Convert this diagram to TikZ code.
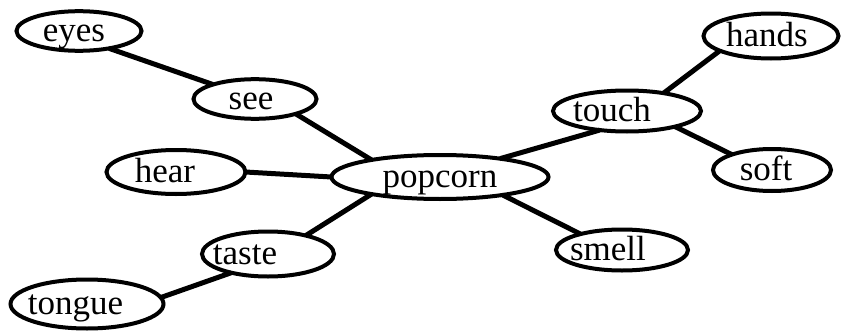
\documentclass[tikz,border=0pt]{standalone}
\usepackage{fontspec}
\setmainfont{Liberation Serif}
\usetikzlibrary{shapes.geometric}
\tikzset{
  oval/.style={ellipse, draw, line width=4pt, inner sep=0pt, outer sep=0pt,
    font=\fontsize{35}{40}\selectfont, text height=24pt, text depth=4pt},
  link/.style={line width=5pt}
}
\newcommand{\lsh}[2]{\hspace*{-#1pt}#2}
\begin{document}
\begin{tikzpicture}[x=1pt,y=-1pt]
\useasboundingbox (0,0) rectangle (841,332);
\node[oval, minimum width=125, minimum height=38] (eyes) at (79,31) {\lsh{10}{eyes}};
\node[oval, minimum width=123, minimum height=36] (see) at (255,99) {\lsh{8}{see}};
\node[oval, minimum width=139, minimum height=44] (hear) at (176,172) {\lsh{22}{hear}};
\node[oval, minimum width=217, minimum height=44] (popcorn) at (440,177) {popcorn};
\node[oval, minimum width=132, minimum height=45] (taste) at (268,254) {\lsh{46}{taste}};
\node[oval, minimum width=153, minimum height=49] (tongue) at (87,304) {\lsh{23}{tongue}};
\node[oval, minimum width=148, minimum height=41] (touch) at (627,111) {\lsh{30}{touch}};
\node[oval, minimum width=135, minimum height=45] (hands) at (771,36) {\lsh{8}{hands}};
\node[oval, minimum width=118, minimum height=42] (soft) at (772,170) {\lsh{12}{soft}};
\node[oval, minimum width=132, minimum height=41] (smell) at (622,250) {\lsh{28}{smell}};

\draw[link] (eyes.-30) -- (see.161);
\draw[link] (see.-20) -- (popcorn.166);
\draw[link] (hear.east) -- (popcorn.west);
\draw[link] (taste.26) -- (popcorn.194);
\draw[link] (tongue.5) -- (taste.207);
\draw[link] (popcorn.17) -- (touch.215);
\draw[link] (touch.26) -- (hands.196);
\draw[link] (touch.-18) -- (soft.159);
\draw[link] (popcorn.-16) -- (smell.159);
\end{tikzpicture}
\end{document}
